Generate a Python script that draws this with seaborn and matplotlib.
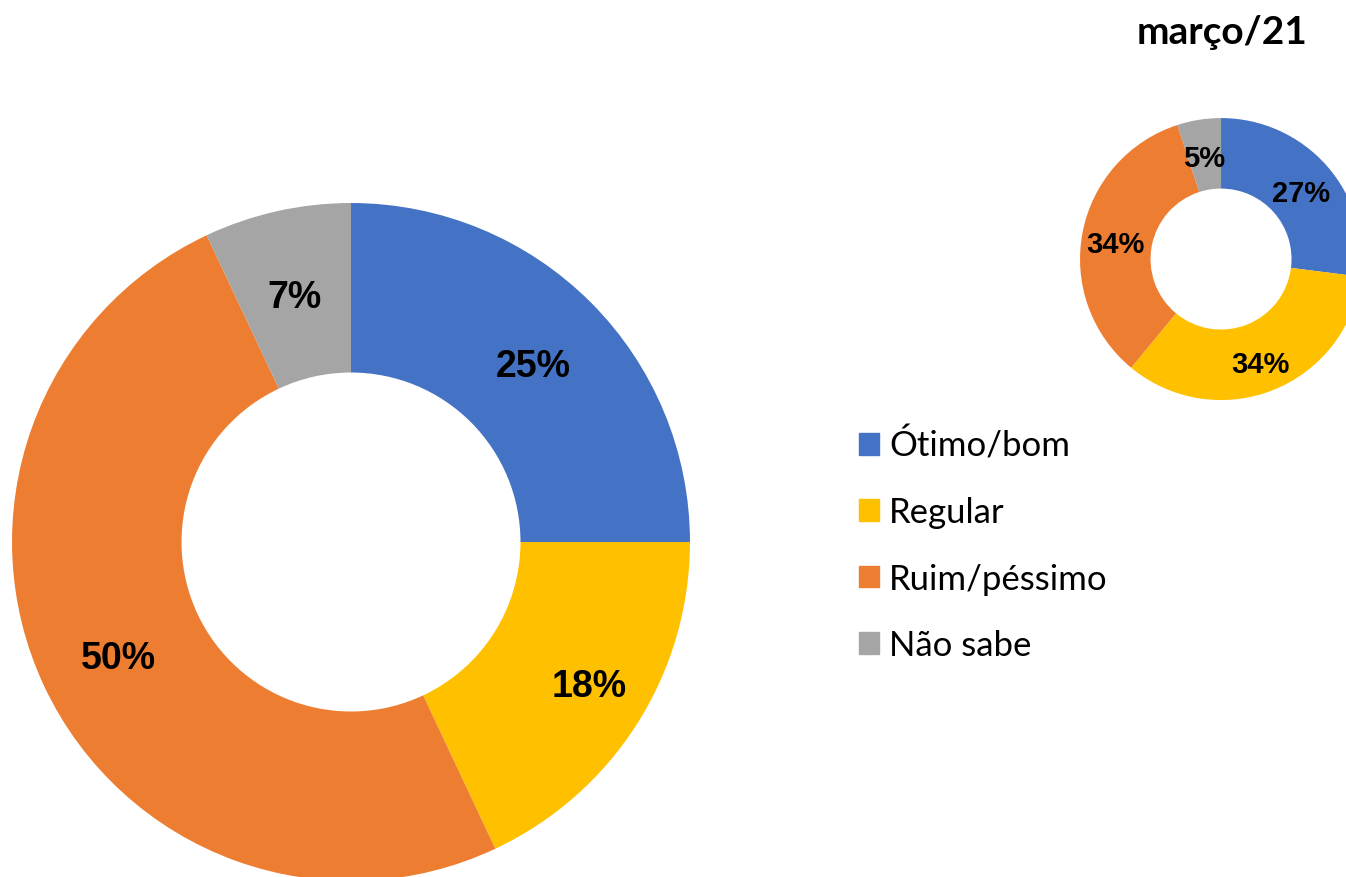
import matplotlib
matplotlib.use("Agg")
import matplotlib.pyplot as plt
import matplotlib.patches as mpatches
import seaborn as sns

categorias = ["Ótimo/bom", "Regular", "Ruim/péssimo", "Não sabe"]
atual = [25, 18, 50, 7]
marco21 = [27, 34, 34, 5]
titulo_marco = "março/21"

sns.set_theme(style="white")
plt.rcParams["font.family"] = ["Lato", "DejaVu Sans"]
plt.rcParams["text.color"] = "black"
cores = sns.color_palette(["#4472C4", "#FFC000", "#ED7D31", "#A5A5A5"])

fig = plt.figure(figsize=(13.46, 8.78), dpi=100)
fig.patch.set_facecolor("white")


def donut(ax, valores, tam, desce):
    wedges, _, autotexts = ax.pie(
        valores, colors=cores, startangle=90, counterclock=False,
        radius=1, autopct=lambda p: f"{p:.0f}%", pctdistance=0.76,
        wedgeprops=dict(width=0.5, linewidth=0),
        textprops=dict(family="Liberation Sans", weight="bold",
                       fontsize=tam, color="black"))
    # rótulos um pouco mais baixos, como no original
    for t in autotexts:
        x, y = t.get_position()
        t.set_position((x, y - desce))
    ax.set_xlim(-1, 1)
    ax.set_ylim(-1, 1)
    ax.set_aspect("equal")
    ax.axis("off")
    return autotexts


# rosca grande (atual)
ax1 = fig.add_axes([0.00892, -0.00456, 0.5037, 0.7722])
rot = donut(ax1, atual, 27, 0.018)
# o Excel empurra um pouco o rótulo do "Regular" para fora
x, y = rot[1].get_position()
rot[1].set_position((x + 0.06, y))

# rosca pequena (março/21)
ax2 = fig.add_axes([0.8024, 0.5432, 0.2095, 0.3212])
donut(ax2, marco21, 21, 0.035)
fig.text(1222 / 1346, 1 - 33 / 878, titulo_marco, ha="center", va="center",
         fontsize=28, weight="bold", color="black")

handles = [mpatches.Patch(color=c, label=l) for c, l in zip(cores, categorias)]
fig.legend(handles=handles, loc="upper left",
           bbox_to_anchor=(859 / 1346, 1 - 429 / 878),
           frameon=False, fontsize=25, borderpad=0, borderaxespad=0,
           handlelength=0.58, handleheight=0.58, handletextpad=0.29,
           labelspacing=0.99, labelcolor="black")

fig.savefig("out.png", dpi=100)
